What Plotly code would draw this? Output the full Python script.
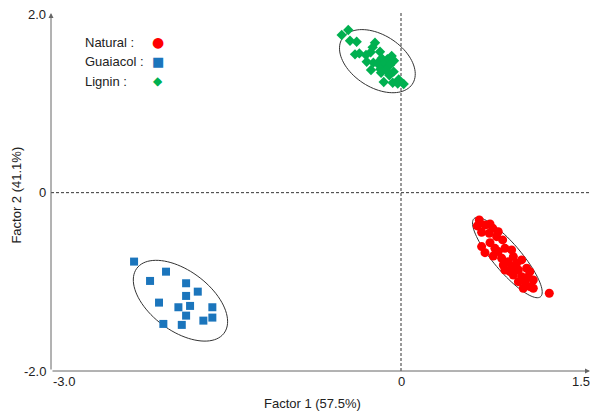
import numpy as np
import plotly.graph_objects as go

# ---------------- data ----------------
natural_x = [0.671, 0.720, 0.654, 0.763, 0.786, 0.691, 0.757, 0.834, 0.820, 0.871,
             0.763, 0.691, 0.805, 0.891, 0.720, 0.834, 0.948, 0.791, 0.863, 0.963,
             0.920, 0.877, 0.991, 1.034, 0.948, 0.891, 1.006, 1.077, 0.963, 1.034,
             1.105, 1.063, 1.006, 1.134, 1.105, 1.048, 1.134, 1.271, 1.091, 0.934]
natural_y = [-0.306, -0.362, -0.373, -0.351, -0.399, -0.444, -0.455, -0.437, -0.493, -0.530,
             -0.561, -0.605, -0.624, -0.624, -0.673, -0.661, -0.642, -0.710, -0.736, -0.717,
             -0.774, -0.811, -0.792, -0.754, -0.829, -0.867, -0.867, -0.848, -0.923, -0.942,
             -0.886, -0.998, -0.998, -0.979, -1.054, -1.072, -1.072, -1.128, -0.942, -0.886]

guaiacol_x = [-2.288, -2.014, -2.151, -1.842, -1.842, -1.742, -2.074, -1.908,
              -1.808, -1.617, -1.842, -1.617, -1.694, -2.037, -1.879]
guaiacol_y = [-0.773, -0.886, -0.990, -1.016, -1.158, -1.110, -1.233, -1.285,
              -1.270, -1.285, -1.379, -1.401, -1.435, -1.472, -1.483]

lignin_x = [-0.452, -0.508, -0.437, -0.380, -0.223, -0.243, -0.180, -0.260, -0.394, -0.357,
            -0.300, -0.080, -0.166, -0.117, -0.060, -0.294, -0.237, -0.203, -0.151, -0.094,
            -0.177, -0.257, -0.129, -0.063, -0.171, -0.100, -0.020, -0.148, -0.071, 0.023,
            -0.028]
lignin_y = [1.824, 1.768, 1.704, 1.693, 1.682, 1.630, 1.581, 1.574, 1.551, 1.562,
            1.544, 1.533, 1.507, 1.496, 1.480, 1.469, 1.458, 1.451, 1.440, 1.432,
            1.384, 1.376, 1.376, 1.357, 1.345, 1.317, 1.269, 1.242, 1.233, 1.218,
            1.225]

series_names = ["Natural :", "Guaiacol :", "Lignin :"]
x_tick_labels = ["-3.0", "0", "1.5"]
y_tick_labels = ["2.0", "0", "-2.0"]
x_title = "Factor 1 (57.5%)"
y_title = "Factor 2 (41.1%)"

# ---------------- styles ----------------
FONT = "Liberation Sans, Arial, sans-serif"
TXT = "#222222"
AX = "#666666"
RED, BLUE, GREEN = "#FF0000", "#1B75BC", "#00B050"
XR = [-3.0, 1.62]
YR = [-2.0, 2.015]


def ellipse_path(xs, ys, k_major, k_minor, n=90):
    """Confidence-type ellipse from the group's covariance."""
    xs, ys = np.asarray(xs), np.asarray(ys)
    cov = np.cov(xs, ys)
    vals, vecs = np.linalg.eigh(cov)          # ascending: [minor, major]
    t = np.linspace(0, 2 * np.pi, n)
    scale = np.array([k_minor, k_major]) * np.sqrt(vals)
    circ = np.vstack([np.cos(t), np.sin(t)]) * scale[:, None]
    pts = vecs @ circ
    px = pts[0] + xs.mean()
    py = pts[1] + ys.mean()
    return "M " + " L ".join(f"{a:.4f},{b:.4f}" for a, b in zip(px, py)) + " Z"


fig = go.Figure()

groups = [
    (natural_x, natural_y, RED, "circle", 9, (1.95, 2.1)),
    (guaiacol_x, guaiacol_y, BLUE, "square", 8, (2.05, 2.2)),
    (lignin_x, lignin_y, GREEN, "diamond", 8, (2.0, 4.0)),
]
for (gx, gy, col, sym, sz, (kM, km)), name in zip(groups, series_names):
    fig.add_shape(type="path", path=ellipse_path(gx, gy, kM, km), xref="x", yref="y",
                  line=dict(color="#333333", width=1), layer="below")
    fig.add_trace(go.Scatter(x=gx, y=gy, mode="markers", name=name,
                             marker=dict(color=col, symbol=sym, size=sz, line=dict(width=0)),
                             showlegend=False, hoverinfo="skip"))

# dashed zero lines
fig.add_shape(type="line", x0=0, x1=0, y0=YR[0], y1=YR[1], xref="x", yref="y",
              line=dict(color="#333333", width=1, dash="3px,2px"), layer="below")
fig.add_shape(type="line", x0=XR[0], x1=XR[1], y0=0, y1=0, xref="x", yref="y",
              line=dict(color="#333333", width=1, dash="3px,2px"), layer="below")

# axis lines with arrowheads
fig.add_annotation(x=XR[1], y=YR[0], ax=XR[0], ay=YR[0], xref="x", yref="y",
                   axref="x", ayref="y", showarrow=True, arrowhead=2, arrowsize=1,
                   arrowwidth=1, arrowcolor=AX, text="")
fig.add_annotation(x=XR[0], y=YR[1], ax=XR[0], ay=YR[0], xref="x", yref="y",
                   axref="x", ayref="y", showarrow=True, arrowhead=2, arrowsize=1,
                   arrowwidth=1, arrowcolor=AX, text="")

tf = dict(family=FONT, size=13, color=TXT)
# x tick labels
fig.add_annotation(x=-3.0, y=0, xref="x", yref="paper", text=x_tick_labels[0],
                   showarrow=False, xanchor="left", yanchor="top", yshift=-1, font=tf)
fig.add_annotation(x=0, y=0, xref="x", yref="paper", text=x_tick_labels[1],
                   showarrow=False, xanchor="center", yanchor="top", yshift=-1, font=tf)
fig.add_annotation(x=XR[1], y=0, xref="x", yref="paper", text=x_tick_labels[2],
                   showarrow=False, xanchor="right", yanchor="top", yshift=-1, xshift=2, font=tf)
# y tick labels
for val, lab in zip([2.0, 0, -2.0], y_tick_labels):
    fig.add_annotation(x=0, y=val, xref="paper", yref="y", text=lab, showarrow=False,
                       xanchor="right", yanchor="middle", xshift=-3, font=tf)

# axis titles
fig.add_annotation(x=0.5 - 0.015, y=0, xref="paper", yref="paper", text=x_title,
                   showarrow=False, xanchor="center", yanchor="top", yshift=-23, font=tf)
fig.add_annotation(x=0, y=0.49, xref="paper", yref="paper", text=y_title, textangle=-90,
                   showarrow=False, xanchor="center", yanchor="middle", xshift=-34, font=tf)

# legend (text + symbol glyphs)
legend_syms = [("●", RED, 14), ("■", BLUE, 13), ("◆", GREEN, 12)]
for i, (name, (g, col, gs)) in enumerate(zip(series_names, legend_syms)):
    py = 42 + 19.5 * i
    ypap = (371 - py) / 358
    fig.add_annotation(x=(83 - 51) / 539, y=ypap, xref="paper", yref="paper", text=name,
                       showarrow=False, xanchor="left", yanchor="middle", font=tf)
    fig.add_annotation(x=(158 - 51) / 539, y=ypap, xref="paper", yref="paper", text=g,
                       showarrow=False, xanchor="center", yanchor="middle",
                       font=dict(family="DejaVu Sans", size=gs, color=col))

fig.update_xaxes(range=XR, showgrid=False, zeroline=False, showticklabels=False,
                 showline=False, ticks="")
fig.update_yaxes(range=YR, showgrid=False, zeroline=False, showticklabels=False,
                 showline=False, ticks="")
fig.update_layout(width=597, height=412, margin=dict(l=51, r=7, t=13, b=41),
                  plot_bgcolor="white", paper_bgcolor="white", font=tf,
                  hovermode=False)

fig.write_html("out.html", config={"displayModeBar": False},
               post_script="document.body.style.margin='0';document.body.style.overflow='hidden';")
